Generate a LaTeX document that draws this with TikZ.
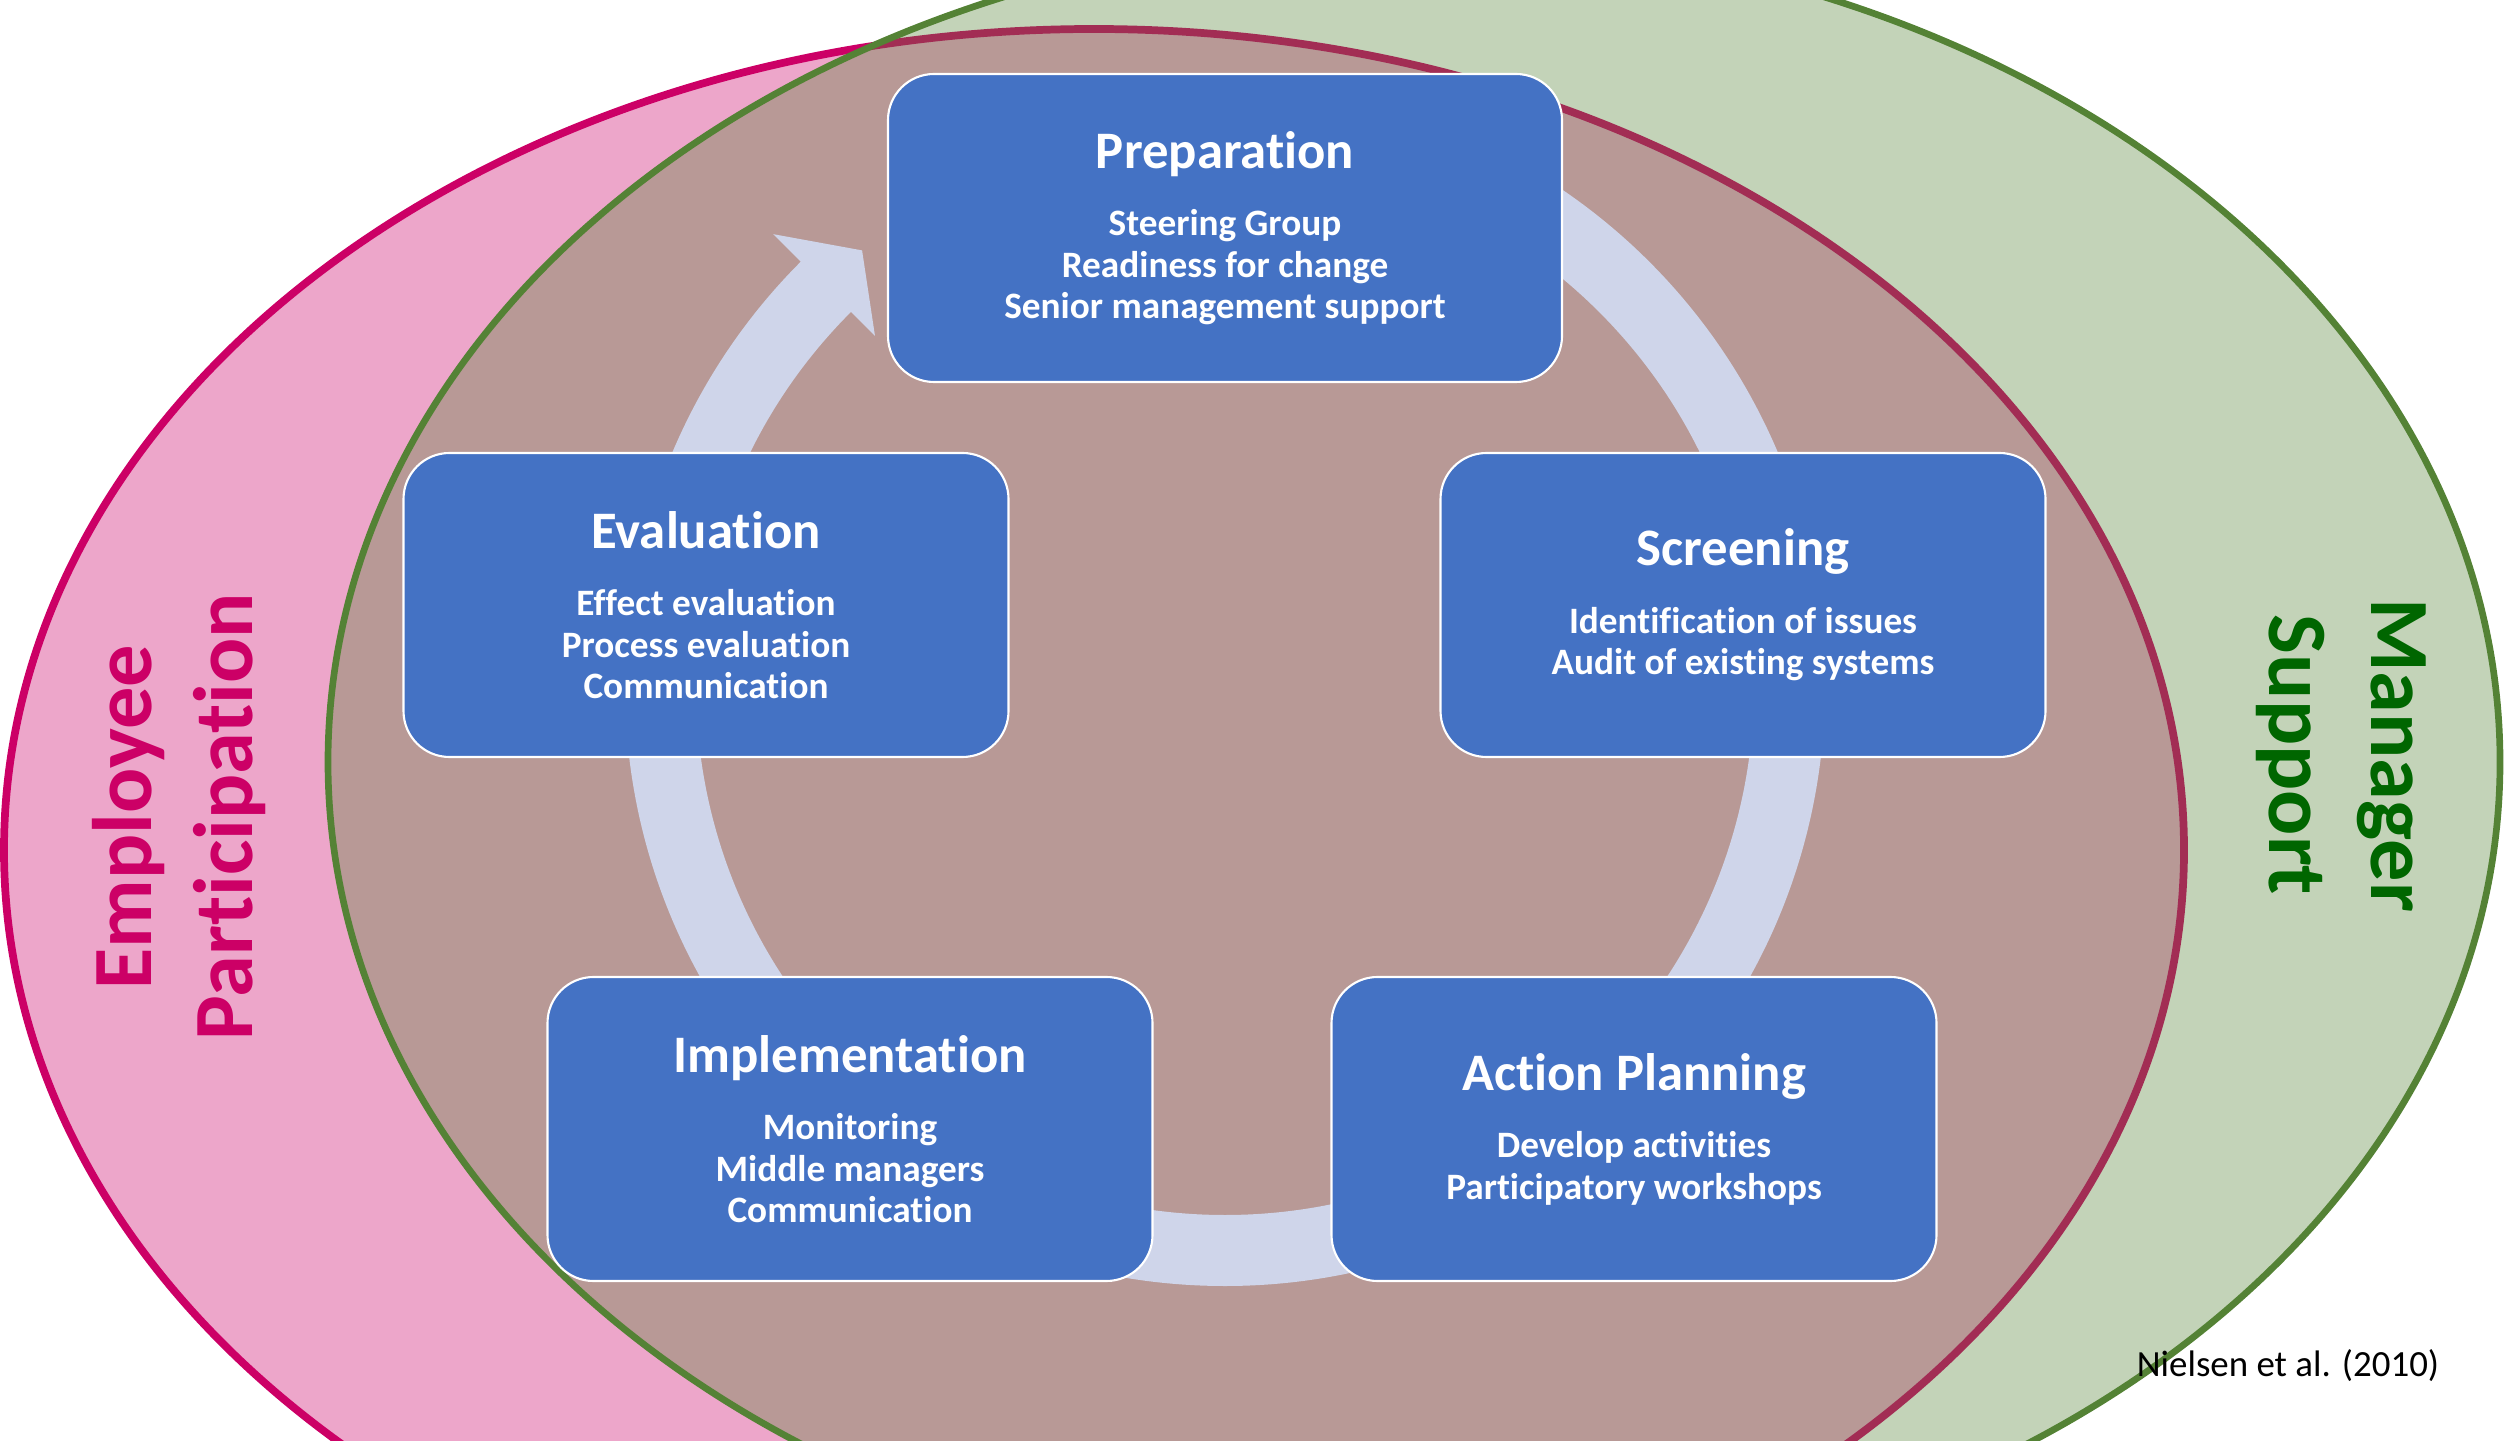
\documentclass[tikz,border=0pt]{standalone}
\usepackage{fontspec}
\setmainfont[Ligatures=NoCommon]{Carlito}
\usepackage{xcolor}
\usepackage{tikz}
\usetikzlibrary{positioning}

\definecolor{epink}{HTML}{CC0066}
\definecolor{mgreen}{HTML}{548235}
\definecolor{mtext}{HTML}{006600}
\definecolor{boxblue}{HTML}{4472C4}
\definecolor{ringblue}{HTML}{CFD5EA}

\tikzset{
	stagebox/.style={shape=rectangle, rounded corners=0.46cm, fill=boxblue, draw=white, line width=0.6pt, text=white, align=center, minimum width=6.05cm, minimum height=3.04cm, font=\bfseries\fontsize{10.6}{11.8}\selectfont},
	sidelabel/.style={align=center, font=\bfseries\fontsize{24}{29}\selectfont},
	setfill/.style={line width=#1, fill opacity=0.35},
}
\newcommand{\stagetitle}[1]{{\fontsize{15}{18}\selectfont #1}}

\begin{document}
\begin{tikzpicture}
	\useasboundingbox (0, 0) rectangle (25.09, 14.40);
	\clip (0, 0) rectangle (25.09, 14.40);
	% The two overlapping sets:
	\draw[setfill=2.2pt, draw=epink, fill=epink] (10.94, 5.90) ellipse [x radius=10.90, y radius=8.21];
	\draw[setfill=1.9pt, draw=mgreen, fill=mgreen] (14.14, 6.78) ellipse [x radius=10.86, y radius=8.26];
	% Cycle arrow behind the stages:
	\fill[ringblue, shift={(12.25, 7.54)}] (90:6.00) arc[start angle=90, end angle=-225, radius=6.00] -- (135:6.39) -- (129.8:5.67) -- (135:4.95) -- (135:5.29) arc[start angle=-225, end angle=90, radius=5.29] -- cycle;
	% Stages:
	\node[stagebox, minimum width=6.74cm, minimum height=3.08cm] (prep) at (12.25, 12.12){\stagetitle{Preparation}\\[7.4pt]Steering Group\\Readiness for change\\Senior management support};
	\node[stagebox] (screen) at (17.43, 8.35){\stagetitle{Screening}\\[7.4pt]Identification of issues\\Audit of existing systems};
	\node[stagebox] (plan) at (16.34, 3.11){\stagetitle{Action Planning}\\[7.4pt]Develop activities\\Participatory workshops};
	\node[stagebox] (impl) at (8.50, 3.11){\stagetitle{Implementation}\\[7.4pt]Monitoring\\Middle managers\\Communication};
	\node[stagebox] (eval) at (7.06, 8.35){\stagetitle{Evaluation}\\[7.4pt]Effect evaluation\\Process evaluation\\Communication};
	% Set labels and source:
	\node[sidelabel, text=epink, rotate=90] (emp) at (1.79, 6.23){Employee\\Participation};
	\node[sidelabel, text=mtext, rotate=-90] (mgr) at (23.41, 6.85){Manager\\Support};
	\node[font=\fontsize{10.5}{12}\selectfont] (src) at (22.88, 0.74){Nielsen et al. (2010)};
\end{tikzpicture}
\end{document}
